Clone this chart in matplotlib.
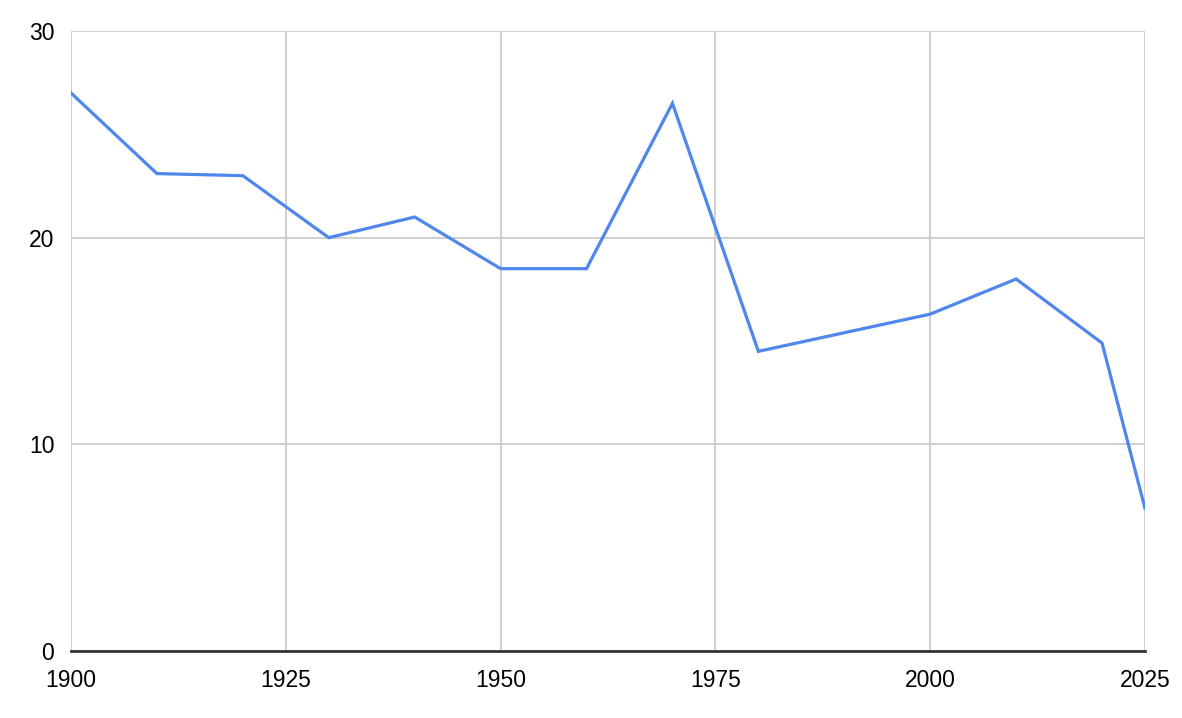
import matplotlib
matplotlib.use("Agg")
import matplotlib.pyplot as plt

years = [1900, 1910, 1920, 1930, 1940, 1950, 1960, 1970, 1980, 2000, 2010, 2020, 2025]
values = [27.0, 23.1, 23.0, 20.0, 21.0, 18.5, 18.5, 26.5, 14.5, 16.3, 18.0, 14.9, 6.9]
x_ticks = [1900, 1925, 1950, 1975, 2000, 2025]
y_ticks = [0, 10, 20, 30]

plt.rcParams['font.family'] = ['Liberation Sans', 'DejaVu Sans']

fig = plt.figure(figsize=(11.82, 7.18), dpi=100)
ax = fig.add_axes([71/1182, 1 - 651/718, (1145-71)/1182, (651-31)/718])

ax.plot(years, values, color='#5087ec', linewidth=2.3, solid_joinstyle='miter', clip_on=True, zorder=3)

ax.set_xlim(1900, 2025)
ax.set_ylim(0, 30)
ax.set_xticks(x_ticks)
ax.set_yticks(y_ticks)
ax.set_xticklabels([str(t) for t in x_ticks])
ax.set_yticklabels([str(t) for t in y_ticks])

ax.grid(True, color='#cccccc', linewidth=1.3, zorder=0)
for s in ['top', 'right', 'left']:
    ax.spines[s].set_visible(False)
ax.spines['bottom'].set_color('#333333')
ax.spines['bottom'].set_linewidth(2)
ax.spines['bottom'].set_zorder(4)
ax.tick_params(axis='both', length=0, labelsize=16.5, colors='#000000')
ax.tick_params(axis='x', pad=13)
ax.tick_params(axis='y', pad=12)

fig.savefig('out.png', dpi=100, facecolor='white')
